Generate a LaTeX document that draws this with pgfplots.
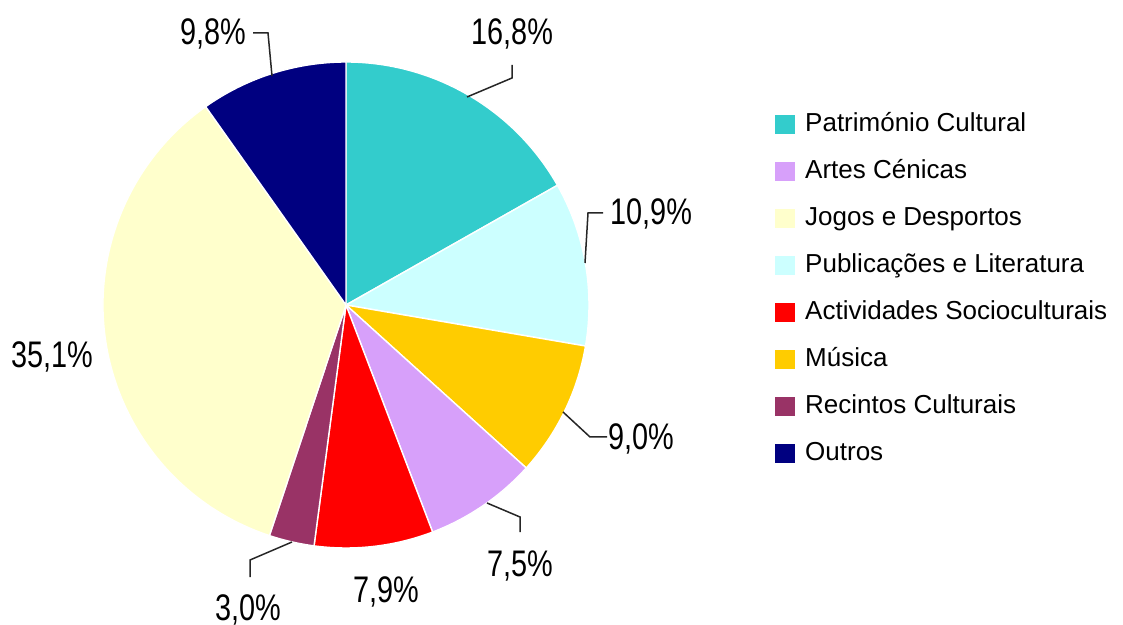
\documentclass[border=0pt]{standalone}
\usepackage{fontspec}
\setmainfont{Liberation Sans}
\newfontfamily\labfont[FakeStretch=0.78]{Liberation Sans}
\usepackage{pgfplots}
\usepackage{pgfplotstable}
\pgfplotsset{compat=1.18}
\definecolor{cPat}{RGB}{51,204,204}
\definecolor{cPub}{RGB}{204,255,255}
\definecolor{cMus}{RGB}{255,204,0}
\definecolor{cArt}{RGB}{215,160,250}
\definecolor{cAct}{RGB}{255,0,0}
\definecolor{cRec}{RGB}{153,51,102}
\definecolor{cJog}{RGB}{255,255,204}
\definecolor{cOut}{RGB}{0,0,128}

% slices clockwise from 12 o'clock
\pgfplotstableread{
val  col
16.8 cPat
10.9 cPub
9.0  cMus
7.5  cArt
7.9  cAct
3.0  cRec
35.1 cJog
9.8  cOut
}\piedata

\newcommand{\labstyle}{\labfont\fontsize{18.5}{20}\selectfont}

\begin{document}
\begin{tikzpicture}
\begin{axis}[
  x=0.5pt, y=0.5pt,
  xmin=0, xmax=1123, ymin=0, ymax=624,
  hide axis, clip=false,
  legend cell align=left,
  legend image code/.code={\fill[#1] (0pt,-4.3pt) rectangle (9.5pt,4.3pt);},
  legend style={at={(axis cs:775,513)}, anchor=north west,
    draw=none, fill=none, inner sep=0pt, row sep=10.5pt, column sep=5pt,
    font=\fontsize{13}{15}\selectfont,
    nodes={inner sep=0pt, text height=10pt, text depth=3pt}},
]
\pgfplotsextra{
  % keep the whole frame in the bounding box
  \path (axis cs:0,0) rectangle (axis cs:1123,624);
  \xdef\ang{90}
  \foreach \i in {0,...,7}{
    \pgfplotstablegetelem{\i}{val}\of\piedata \let\v\pgfplotsretval
    \pgfplotstablegetelem{\i}{col}\of\piedata \let\c\pgfplotsretval
    \pgfmathsetmacro\b{\ang-3.6*\v}
    \fill[\c, draw=white, line width=0.7pt] (axis cs:346,319) -- ++(\ang:121.5pt)
      arc[start angle=\ang, end angle=\b, radius=121.5pt] -- cycle;
    \xdef\ang{\b}
  }
  % leader lines
  \draw[line width=0.75pt, black!85] (axis cs:467,527) -- (axis cs:512,546) -- (axis cs:512,559);
  \draw[line width=0.75pt, black!85] (axis cs:253,591) -- (axis cs:268,591) -- (axis cs:272,548);
  \draw[line width=0.75pt, black!85] (axis cs:585,361) -- (axis cs:588,411) -- (axis cs:603,411);
  \draw[line width=0.75pt, black!85] (axis cs:563,212) -- (axis cs:590,187) -- (axis cs:607,187);
  \draw[line width=0.75pt, black!85] (axis cs:487,121) -- (axis cs:520,107) -- (axis cs:520,92);
  \draw[line width=0.75pt, black!85] (axis cs:292,82) -- (axis cs:250,64) -- (axis cs:250,47);
  % percentage labels
  \node[anchor=base, inner sep=0pt, font=\labstyle] at (axis cs:512,579) {16,8\%};
  \node[anchor=base, inner sep=0pt, font=\labstyle] at (axis cs:213,579) {9,8\%};
  \node[anchor=base, inner sep=0pt, font=\labstyle] at (axis cs:651,399) {10,9\%};
  \node[anchor=base, inner sep=0pt, font=\labstyle] at (axis cs:641,174) {9,0\%};
  \node[anchor=base, inner sep=0pt, font=\labstyle] at (axis cs:520,47) {7,5\%};
  \node[anchor=base, inner sep=0pt, font=\labstyle] at (axis cs:386,22) {7,9\%};
  \node[anchor=base, inner sep=0pt, font=\labstyle] at (axis cs:248,4) {3,0\%};
  \node[anchor=base, inner sep=0pt, font=\labstyle] at (axis cs:52,256) {35,1\%};
}
\addlegendimage{cPat}\addlegendentry{Património Cultural}
\addlegendimage{cArt}\addlegendentry{Artes Cénicas}
\addlegendimage{cJog}\addlegendentry{Jogos e Desportos}
\addlegendimage{cPub}\addlegendentry{Publicações e Literatura}
\addlegendimage{cAct}\addlegendentry{Actividades Socioculturais}
\addlegendimage{cMus}\addlegendentry{Música}
\addlegendimage{cRec}\addlegendentry{Recintos Culturais}
\addlegendimage{cOut}\addlegendentry{Outros}
\end{axis}
\end{tikzpicture}
\end{document}
